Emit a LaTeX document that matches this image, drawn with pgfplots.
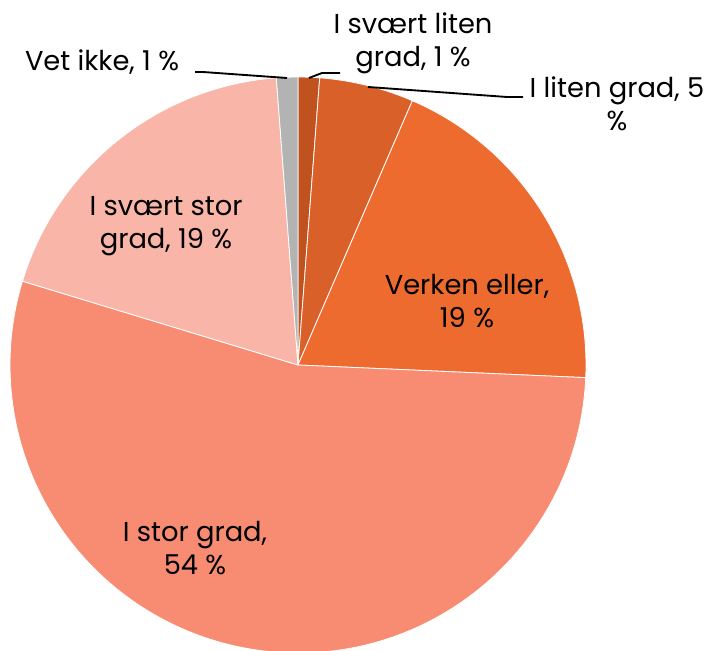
\documentclass[border=0pt]{standalone}
\usepackage{pgfplots}
\pgfplotsset{compat=1.18}
\usepackage{fontspec}
\setmainfont{Poppins}
\definecolor{cA}{HTML}{C0521F}
\definecolor{cB}{HTML}{D96029}
\definecolor{cC}{HTML}{ED6B2F}
\definecolor{cD}{HTML}{F88C72}
\definecolor{cE}{HTML}{F8B5A8}
\definecolor{cF}{HTML}{B3B3B3}
% shares in percent, clockwise from 12 o'clock
\def\vA{1.2}  % I svaert liten grad
\def\vB{5.3}  % I liten grad
\def\vC{19.2} % Verken eller
\def\vD{54.0} % I stor grad
\def\vE{19.1} % I svaert stor grad
\def\vF{1.2}  % Vet ikke
\newcommand{\slice}[3]{% start cum, value, colour
  \pgfmathsetmacro\sa{90-3.6*#1}%
  \pgfmathsetmacro\ea{90-3.6*(#1+#2)}%
  \edef\tmp{\noexpand\fill[#3,draw=white,line width=0.6pt] (axis cs:298,285) -- ++(\sa:216pt) arc[start angle=\sa,end angle=\ea,radius=216pt] -- cycle;}%
  \tmp}
\begin{document}
\begin{tikzpicture}
\begin{axis}[x=0.75pt,y=0.75pt,xmin=0,xmax=714,ymin=0,ymax=650,hide axis,scale only axis,clip=true,at={(0,0)},anchor=south west]
\pgfmathsetmacro\cA{0}
\pgfmathsetmacro\cB{\vA}
\pgfmathsetmacro\cC{\vA+\vB}
\pgfmathsetmacro\cD{\vA+\vB+\vC}
\pgfmathsetmacro\cE{\vA+\vB+\vC+\vD}
\pgfmathsetmacro\cF{\vA+\vB+\vC+\vD+\vE}
\slice{\cA}{\vA}{cA}
\slice{\cB}{\vB}{cB}
\slice{\cC}{\vC}{cC}
\slice{\cD}{\vD}{cD}
\slice{\cE}{\vE}{cE}
\slice{\cF}{\vF}{cF}
\draw[black,line width=1.4pt] (axis cs:195,578) -- (axis cs:203,578) -- (axis cs:287,572);
\draw[black,line width=1.4pt] (axis cs:309,572) -- (axis cs:322,577) -- (axis cs:340,577);
\draw[black,line width=1.4pt] (axis cs:368,563) -- (axis cs:507,553) -- (axis cs:523,553);
\tikzset{lab/.style={inner sep=0pt,align=center,font=\fontsize{20.5}{25}\selectfont,text=black}}
\node[lab] at (axis cs:102,588) {Vet ikke, 1 \%};
\node[lab] at (axis cs:413,607) {I svært liten\\grad, 1 \%};
\node[lab] at (axis cs:617,546) {I liten grad, 5\\\%};
\node[lab] at (axis cs:467,349) {Verken eller,\\19 \%};
\node[lab] at (axis cs:166,424) {I svært stor\\grad, 19 \%};
\node[lab] at (axis cs:195,102) {I stor grad,\\54 \%};
\end{axis}
\pgfresetboundingbox
\path[use as bounding box] (0,0) rectangle (535.5pt,487.5pt);
\end{tikzpicture}
\end{document}
